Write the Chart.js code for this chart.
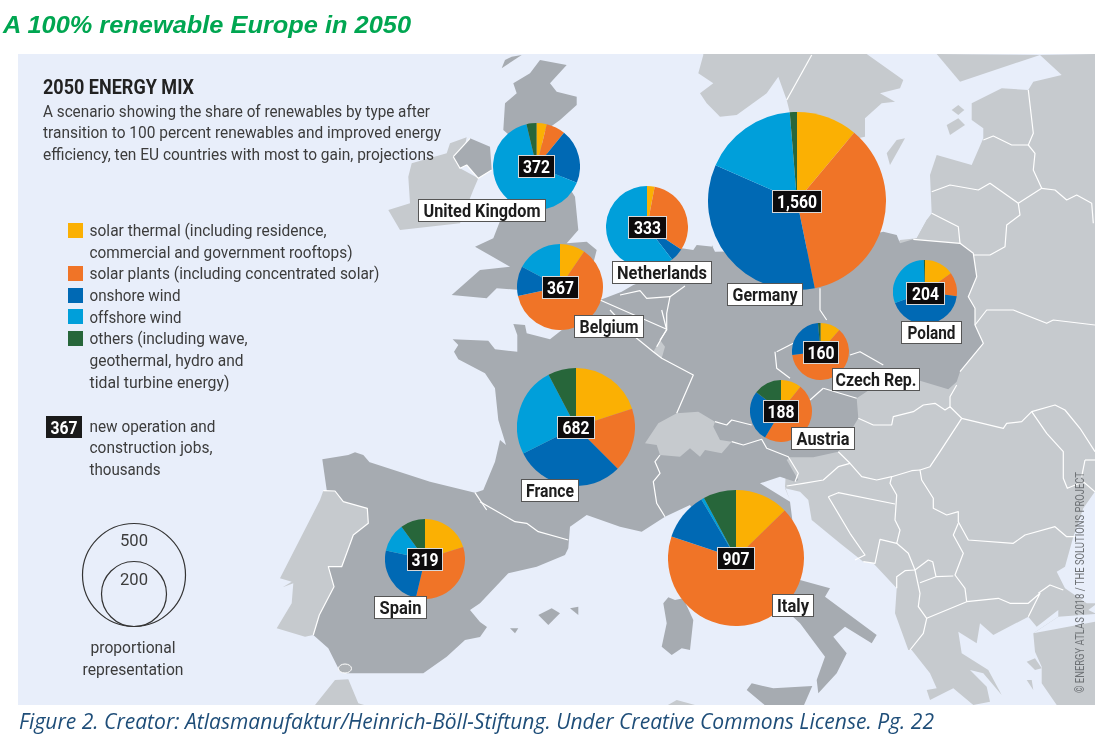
<!DOCTYPE html>
<html><head><meta charset="utf-8">
<style>
html,body{margin:0;padding:0;background:#fff;width:1116px;height:735px;overflow:hidden}
svg,canvas{position:absolute;left:0;top:0}
#pies canvas{position:absolute}
</style>
<script src="https://cdn.jsdelivr.net/npm/chart.js@4"></script>
</head><body>
<svg id="map" width="1116" height="735"></svg>
<div id="pies"></div>
<svg id="text" width="1116" height="735"></svg>
<script>
// ---------- data ----------
const countries    = ["United Kingdom","Netherlands","Belgium","Germany","Poland","Czech Rep.","France","Austria","Italy","Spain"];
const jobs         = [372,333,367,1560,204,160,682,188,907,319];
const solarThermal = [3.8,3.0,9.5,11.1,15.0,11.5,20.0,10.8,12.7,20.2];
const solarPlants  = [7.1,31.3,62.1,35.7,12.1,61.5,17.5,47.8,67.4,33.5];
const onshoreWind  = [20.2,5.2,11.2,34.8,42.3,25.6,30.1,26.7,11.4,24.7];
const offshoreWind = [65.2,60.5,17.2,17.1,30.0,0,24.7,0,0.7,11.6];
const others       = [3.7,0,0,1.3,0.6,1.4,7.7,14.7,7.8,10.0];
const typeColours  = ["#fbb003","#f07427","#0069b4","#009fda","#27663a"];
const typeNames    = ["solar thermal","solar plants","onshore wind","offshore wind","others"];

// ---------- layout ----------
const pieCentres = [[536.7,166],[647.3,227.3],[560,287],[797,200.7],[924.7,292.3],[820.7,351.7],[576,427.3],[781.3,411.3],[735.7,558.3],[425,558.7]];
const radiusPerRootJob = 2.25;
const nameBoxes = [[418,199,128,23],[612,261,100,23],[574,315,70,23],[727,283,76,23],[901,321,61,23],[832,368,88,23],[521,479,58,23],[791,427,64,23],[772,594,42,23],[374,596,53,23]];
const nameWidths = [117,90,59,65,48,81,48,53,32,42];
const jobBoxes = [[518,155,37,23],[628,216,39,23],[542,276,37,23],[772,190,50,23],[906,282,39,23],[803,341,36,23],[557,416,38,23],[763,400,36,23],[717,547,38,23],[407,548,36,23]];

// ---------- background map (decoration, traced in crop frames) ----------
const F={P:[0,0,1],Z1:[380,50,3],Z2:[700,50,3],Z3:[480,310,3],Z5:[0,400,3],Z6:[780,380,3],Z7:[430,310,3],Z8:[1000,470,3],Z9:[640,590,3],Z10:[260,440,3]};
function pts(spec){return spec.map(([f,s])=>s.trim().split(/\s+/).map(p=>{const [x,y]=p.split(',').map(Number),[a,b,k]=F[f];return (a+x/k).toFixed(1)+','+(b+y/k).toFixed(1)}).join(' ')).join(' ')}
const SEA="#e8eefa",DARK="#a6abb1",LIGHT="#c6cace";
const lightBase=[
 [['Z2','650,565 680,510 695,490 690,375 710,315 815,345 850,265 850,235 815,210 815,160 905,115 985,120 1000,95 1085,75 1020,15'],['P','1096,54 1096,490'],
  ['Z8','250,115 220,200 195,290 170,305 195,355 260,400 285,400 285,705 170,705 125,640 125,590 105,545 100,490 175,440 175,420 110,470'],
  ['Z6','745,710 640,765 600,730 590,790 535,755 545,820 625,870 665,945 610,880 570,870 620,920 630,965 580,975 520,925 450,960 440,930 470,925 450,880 395,810 385,810 345,700 350,625 280,550 250,545 180,490 95,420 85,360 60,335 15,325 30,360 15,320 20,240'],
  ['P','800,400 900,240']],
 [['Z2','10,12 500,12 610,90 600,115 540,130 585,155 545,160 495,205 495,260 300,300 270,190 260,150 235,80 200,130 110,195 60,200 20,160 0,130'],['Z1','1000,195 960,130 1000,100 955,70 970,15']],
 [['Z2','710,12 1020,15 780,95']],
 [['Z2','755,180 775,165 793,180 775,195']],[['Z2','740,225 775,205 795,225 750,255']],[['Z2','560,310 590,270 615,265 570,345']],
 [['Z1','25,480 90,460 85,380 95,340 200,310 210,280 260,262 240,355 295,385 280,420 240,520 60,540']],
 [['Z10','165,795 225,720 265,718 295,790 330,800']],
 [['Z9','75,350 110,330 165,345']],
 [['Z8','80,575 105,565 125,595 105,600']],[['Z8','80,630 95,630 100,660']]
];
const dark=[
 [['Z7','68,88 175,92 195,118 262,125 262,75 250,42 285,45 290,70 360,88'],['Z1','660,750 725,725 760,705 800,690 870,630 905,595 940,600 950,585 1000,590'],['Z2','35,585 45,605 300,600 550,545 590,555 600,580 640,568 780,580 820,610 830,680 805,740 825,775 825,825 850,880 780,965'],
  ['Z6','530,5 505,28 420,2 275,25 230,55 235,115 175,215 100,232 30,232 20,240 55,300 20,318'],['Z3','945,515 900,500 840,520 930,575'],
  ['Z6','60,600 150,625 135,650 290,765 275,790 195,740 160,770 200,820 170,880 115,940 110,900 135,830 60,730'],
  ['Z3','700,700 630,585 555,620 485,665 420,650 320,615 270,650 265,715 255,735 170,770 85,790 0,880'],['P','470,610 480,622 487,627 480,637 465,640'],
  ['Z5','1340,770 1270,820'],['Z10','260,700 235,685 205,625 160,585 190,400 200,150 187,58 265,45 285,37 310,45 330,68'],['Z5','1105,185'],['Z7','0,515 135,548 160,540 195,455 210,390 228,405 205,330 195,235 165,190 85,148 72,125 85,105']],
 // Great Britain
 [['Z1','480,30 560,45 510,100 530,125 590,140 590,165 540,210 470,260 585,440 595,540 560,580 620,575 650,600 640,640 560,700 420,720 350,715 320,745 215,735 300,660 390,650 285,590 340,565 365,500 440,300 370,240 375,160 410,130 400,100 450,70']],
 [['Z1','365,55 425,15 395,20 375,30']],
 [['Z1','220,320 270,265 330,290 335,360 295,385 260,345 240,355']],
 [['Z9','70,40 85,22 105,30 130,25 160,90 150,180 125,175 95,195 65,170 80,100']],
 [['Z9','320,300 335,280 400,295 517,288 490,350 380,350']],
 [['Z3','175,915 215,895 240,910 205,945']],[['Z3','270,895 295,890 295,915']],[['Z3','90,955 115,955 105,970']]
];
const lightTop=[
 [['Z3','535,340 590,310 655,305 705,335 700,350 720,390 755,395 725,430 675,420 660,440 630,415 600,440 540,435 530,405 495,400']],
 [['Z3','540,90 555,110 545,145 520,125']],
 [['Z2','650,565 680,510 695,495 775,530 780,580 640,568']],
 [['Z10','190,152 225,153 250,185 322,205 325,250 280,285 245,380 205,380 222,440 178,525 160,585 135,590 50,565 95,490 100,430 68,442 95,425 60,415 180,180']]
];
const borders=[
 [['Z1','660,750 860,838 830,890']],[['Z1','720,735 780,722 800,745 870,740 915,708']],[['Z1','870,740 860,790 860,838']],
 [['Z3','390,0 470,85 520,125 545,145 640,195 590,310']],[['Z3','545,0 560,60 540,90']],
 [['Z3','540,435 525,455 540,490 520,515 530,580 555,620']],[['Z3','755,395 790,405 845,388 860,415 925,440 955,490 945,515']],
 [['Z3','705,335 740,345 755,330 815,345']],[['Z3','0,575 105,635 140,640 175,665 265,690']],[['Z7','135,548 170,600']],
 [['Z3','885,125 890,175 930,205']],[['Z2','230,905 280,880']],[['Z2','360,715 360,780 380,810']],[['Z2','450,915 480,905 550,945']],[['Z3','1030,235 1130,265']],[['Z3','990,270 1030,235']],
 [['Z10','190,152 225,153 250,185 322,205 325,250 280,285 245,380 205,380 222,440 178,525 160,585']],
 [['Z1','220,320 270,265']],[['Z1','220,320 240,355 260,345 295,385 335,360']],
 [['Z2','335,15 260,150']],
 [['Z2','640,568 780,580 820,610 830,680 805,740 825,775 825,825 850,880 780,965']],
 [['Z2','695,425 750,405 835,420 870,400 955,460 1025,415 1000,360 1005,310 985,285 1000,250 985,120']],[['Z2','985,285 935,285 880,258 850,270']],
 [['Z2','955,460 960,495 920,525 915,590 870,615 820,615']],[['Z2','1025,415 1065,420 1100,450 1130,435 1175,460 1180,520']],
 [['Z2','825,825 860,780 940,780 1040,820 1060,810 1185,825']],[['Z2','695,490 775,530 780,580']],
 [['Z6','235,115 280,135 335,135 340,110 400,95 430,75 465,70 495,90 510,80 545,115']],[['Z6','510,80 510,50 530,15']],
 [['Z6','545,115 670,145 680,130 725,125 755,95 825,75 855,90 900,145 945,215']],[['Z6','755,95 800,160 850,215 850,295 862,325 910,305 945,335']],[['Z6','915,240 945,240']],[['Z6','915,240 905,290']],
 [['Z6','545,115 480,215 450,260 420,270 425,300 460,355 460,385 500,405 535,395 535,425 565,480 700,490 735,465 825,440 860,470 885,470']],
 [['Z6','175,215 210,250 245,290 290,300 335,290 395,272 420,270']],[['Z6','210,250 175,260 130,300 70,310 20,318']],
 [['Z6','145,350 175,338 345,372']],[['Z6','145,350 210,460 255,525 225,540']],[['Z6','335,290 330,310 350,345 345,420 360,450 350,490 300,478 285,550 250,545']],
 [['Z6','350,490 385,520 405,570 420,640 415,680 440,715 430,760 390,810']],[['Z6','405,570 375,572 350,590 350,625']],
 [['Z6','405,570 445,540 458,545 468,590 520,588']],[['Z6','420,608 468,590']],[['Z6','535,430 520,465 550,520 525,585 555,625 560,665']],
 [['Z6','440,715 560,665 655,655 690,670 745,670 780,640 745,710']],[['Z6','775,640 810,615 850,630']]
];
const seaTop=[
 [['Z8','100,490 175,440 285,432 285,455']],[['Z8','265,420 285,405 285,430']]
];
const NS='http://www.w3.org/2000/svg';
function el(parent,tag,attrs,txt){const e=document.createElementNS(NS,tag);for(const k in attrs)e.setAttribute(k,attrs[k]);if(txt!==undefined)e.textContent=txt;parent.appendChild(e);return e}
const mapSvg=document.getElementById('map');
const defs=el(mapSvg,'defs',{});
el(el(defs,'clipPath',{id:'panel'}),'rect',{x:18,y:54,width:1077,height:651});
el(mapSvg,'rect',{x:18,y:54,width:1077,height:651,fill:SEA});
const g=el(mapSvg,'g',{'clip-path':'url(#panel)'});
lightBase.forEach(s=>el(g,'polygon',{points:pts(s),fill:LIGHT}));
dark.forEach(s=>el(g,'polygon',{points:pts(s),fill:DARK}));
lightTop.forEach(s=>el(g,'polygon',{points:pts(s),fill:LIGHT}));
seaTop.forEach(s=>el(g,'polygon',{points:pts(s),fill:SEA}));
borders.forEach(s=>el(g,'polyline',{points:pts(s),fill:'none',stroke:'#fff','stroke-width':1.2,'stroke-linejoin':'round'}));
el(g,'ellipse',{cx:345,cy:668.5,rx:6.5,ry:4.5,fill:'#aeb2b6',stroke:'#fff','stroke-width':1});

// ---------- pies ----------
const piesDiv=document.getElementById('pies');
countries.forEach((name,i)=>{
  const r=radiusPerRootJob*Math.sqrt(jobs[i]),[cx,cy]=pieCentres[i],d=Math.round(r*2);
  const c=document.createElement('canvas');c.width=d;c.height=d;
  c.style.left=(cx-d/2)+'px';c.style.top=(cy-d/2)+'px';c.style.width=d+'px';c.style.height=d+'px';
  piesDiv.appendChild(c);
  new Chart(c,{type:'pie',data:{labels:typeNames,datasets:[{
     data:[solarThermal[i],solarPlants[i],onshoreWind[i],offshoreWind[i],others[i]],
     backgroundColor:typeColours,borderWidth:0}]},
    options:{responsive:false,animation:false,devicePixelRatio:1,layout:{padding:0},
      plugins:{legend:{display:false},tooltip:{enabled:false},title:{display:false}}}});
});

// ---------- text ----------
const T=document.getElementById('text');
const NARROW='"Liberation Sans Narrow","Roboto","Liberation Sans",sans-serif';
function txt(s,x,y,w,o={}){
  const a={x,y,'font-family':o.family||NARROW,'font-size':o.size||17,fill:o.fill||'#3c3c3c','font-weight':o.weight||'normal','font-style':o.style||'normal','text-anchor':o.anchor||'start',lengthAdjust:'spacingAndGlyphs'};
  if(w)a.textLength=w; if(o.transform)a.transform=o.transform;
  return el(T,'text',a,s);
}
txt('A 100% renewable Europe in 2050',3,33,408,{family:'"Liberation Sans",Arial,sans-serif',size:24,weight:'bold',style:'italic',fill:'#00a651'});
txt('Figure 2. Creator: Atlasmanufaktur/Heinrich-Böll-Stiftung. Under Creative Commons License. Pg. 22',19,729,915,{family:'"Open Sans",sans-serif',size:21,style:'italic',fill:'#1f4e79'});
txt('2050 ENERGY MIX',43,94,151,{size:20,weight:'bold',fill:'#222'});
txt('A scenario showing the share of renewables by type after',43,117,387);
txt('transition to 100 percent renewables and improved energy',43,138,398);
txt('efficiency, ten EU countries with most to gain, projections',43,160,391);
const legendLines=[
 ['solar thermal (including residence,',236,237],['commercial and government rooftops)',257.5,263],
 ['solar plants (including concentrated solar)',279,290],['onshore wind',301,91],['offshore wind',322.7,92],
 ['others (including wave,',344,158],['geothermal, hydro and',366,154],['tidal turbine energy)',388,140]];
legendLines.forEach(l=>txt(l[0],89.5,l[1],l[2]));
[223,266,288,309,331].forEach((y,i)=>el(T,'rect',{x:68,y,width:15,height:15,fill:typeColours[i]}));
el(T,'rect',{x:46,y:416,width:36,height:22,fill:'#1a1a1a'});
txt('367',64,433.5,27,{weight:'bold',size:18,fill:'#fff',anchor:'middle'});
txt('new operation and',89.5,432,126);txt('construction jobs,',89.5,453,123);txt('thousands',89.5,475,71);
el(T,'circle',{cx:134,cy:575,r:51.5,fill:'none',stroke:'#333','stroke-width':1.2});
el(T,'circle',{cx:134,cy:594,r:32.5,fill:'none',stroke:'#333','stroke-width':1.2});
txt('500',134,546,28,{anchor:'middle'});txt('200',134,585,28,{anchor:'middle'});
txt('proportional',133,653,85,{anchor:'middle'});txt('representation',133,675,101,{anchor:'middle'});
txt('© ENERGY ATLAS 2018 / THE SOLUTIONS PROJECT',0,0,221,{size:13,fill:'#6e7276',transform:'translate(1084,693) rotate(-90)'});
countries.forEach((name,i)=>{
  const [x,y,w,h]=nameBoxes[i];
  el(T,'rect',{x:x+.5,y:y+.5,width:w-1,height:h-1,fill:'#fff',stroke:'#555','stroke-width':1});
  txt(name,x+w/2,y+17.5,nameWidths[i],{weight:'bold',size:18,fill:'#1d1d1d',anchor:'middle'});
  const [a,b,c,e]=jobBoxes[i];
  el(T,'rect',{x:a+.5,y:b+.5,width:c-1,height:e-1,fill:'#0d0b0c',stroke:'#d8d8d8','stroke-width':1});
  const label=jobs[i].toLocaleString('en-US');
  txt(label,a+c/2,b+18,label.length>3?40:27,{weight:'bold',size:18,fill:'#fff',anchor:'middle'});
});
</script>
</body></html>
